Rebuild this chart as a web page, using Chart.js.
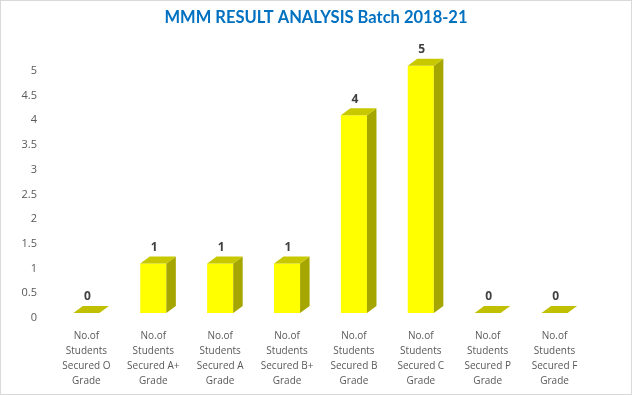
<!DOCTYPE html>
<html>
<head>
<meta charset="utf-8">
<script src="https://cdn.jsdelivr.net/npm/chart.js@4"></script>
<style>
  html, body { margin: 0; padding: 0; background: #fff; }
  .wrap { position: relative; width: 632px; height: 395px; box-sizing: border-box; border: 1px solid #d9d9d9; }
  canvas { display: block; }
</style>
</head>
<body>
<div class="wrap"><canvas id="grafico" width="630" height="393"></canvas></div>
<script>
const titulo = "MMM RESULT ANALYSIS Batch 2018-21";
const categorias = [
    ["No.of", "Students", "Secured O", "Grade"],
    ["No.of", "Students", "Secured A+", "Grade"],
    ["No.of", "Students", "Secured A", "Grade"],
    ["No.of", "Students", "Secured B+", "Grade"],
    ["No.of", "Students", "Secured B", "Grade"],
    ["No.of", "Students", "Secured C", "Grade"],
    ["No.of", "Students", "Secured P", "Grade"],
    ["No.of", "Students", "Secured F", "Grade"]
];
const alumnos = [0, 1, 1, 1, 4, 5, 0, 0];
const ejeY = { min: 0, max: 5, paso: 0.5 };

// titulo centrado sobre todo el lienzo (no sobre el area con padding)
const tituloCentrado = {
    id: "tituloCentrado",
    afterDraw(chart) {
        const ctx = chart.ctx;
        ctx.save();
        ctx.fillStyle = "#0070c0";
        ctx.font = "bold 16.5px Lato";
        ctx.textAlign = "center";
        ctx.textBaseline = "middle";
        ctx.fillText(titulo, chart.width / 2, 17);
        ctx.restore();
    }
};

// caras laterales y superiores tipo Excel 3D
const prof = { dx: 9.5, dy: 7 };
const barras3D = {
    id: "barras3D",
    afterDatasetsDraw(chart) {
        const ctx = chart.ctx;
        const meta = chart.getDatasetMeta(0);
        ctx.save();
        meta.data.forEach((bar, i) => {
            const { x, y, base, width } = bar.getProps(["x", "y", "base", "width"], true);
            const l = x - width / 2, r = x + width / 2;
            if (base - y > 0.5) {
                ctx.fillStyle = "#a6a600";
                ctx.beginPath();
                ctx.moveTo(r, y);
                ctx.lineTo(r + prof.dx, y - prof.dy);
                ctx.lineTo(r + prof.dx, base - prof.dy);
                ctx.lineTo(r, base);
                ctx.closePath();
                ctx.fill();
            }
            ctx.fillStyle = alumnos[i] === 0 ? "#c0c000" : "#c8c800";
            ctx.beginPath();
            ctx.moveTo(l, y);
            ctx.lineTo(l + prof.dx, y - prof.dy);
            ctx.lineTo(r + prof.dx, y - prof.dy);
            ctx.lineTo(r, y);
            ctx.closePath();
            ctx.fill();

            // etiqueta de valor
            ctx.fillStyle = "#404040";
            ctx.font = "bold 12px 'Open Sans'";
            ctx.textAlign = "center";
            ctx.textBaseline = "middle";
            ctx.fillText(String(alumnos[i]), x + 1, y - prof.dy - 9);
        });
        ctx.restore();
    }
};

const ctx = document.getElementById("grafico").getContext("2d");
new Chart(ctx, {
    type: "bar",
    data: {
        labels: categorias,
        datasets: [{
            data: alumnos,
            backgroundColor: "#ffff00",
            borderWidth: 0,
            categoryPercentage: 1,
            barPercentage: 0.39
        }]
    },
    options: {
        responsive: false,
        animation: false,
        layout: { padding: { left: 4.5, right: 43, top: 64.8, bottom: -11 } },
        plugins: {
            legend: { display: false },
            tooltip: { enabled: false },
            title: { display: false }
        },
        scales: {
            x: {
                grid: { display: false, drawTicks: false },
                border: { display: false },
                ticks: {
                    color: "#595959",
                    font: { family: "Open Sans", size: 10, lineHeight: 1.5 },
                    padding: 16,
                    autoSkip: false,
                    maxRotation: 0
                }
            },
            y: {
                min: ejeY.min,
                max: ejeY.max,
                grid: { display: false, drawTicks: false },
                border: { display: false },
                ticks: {
                    stepSize: ejeY.paso,
                    color: "#595959",
                    font: { family: "Open Sans", size: 11 },
                    padding: 16,
                    labelOffset: 5,
                    callback: v => String(Number(v.toFixed(1)))
                }
            }
        }
    },
    plugins: [barras3D, tituloCentrado]
});
</script>
</body>
</html>
